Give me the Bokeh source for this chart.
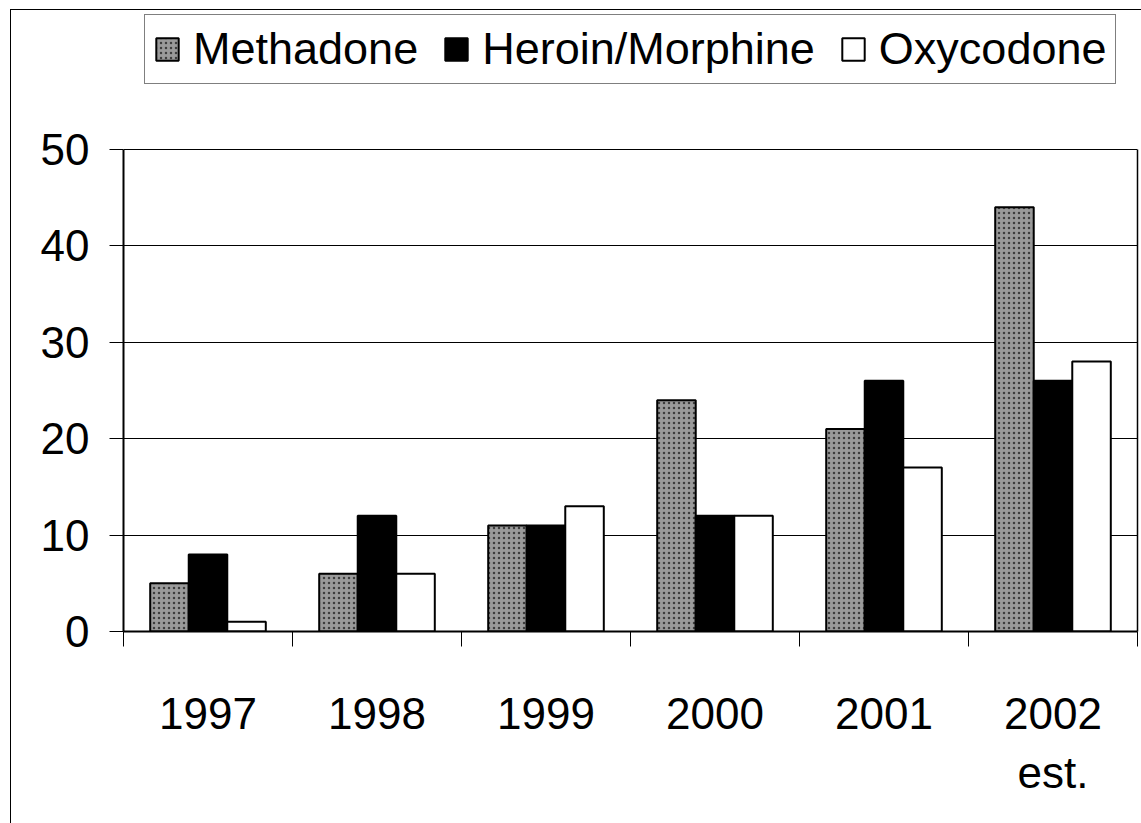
import numpy as np
from bokeh.plotting import figure
from bokeh.models import (ColumnDataSource, Range1d, FixedTicker, Legend, LegendItem,
                          LinearAxis)
from bokeh.transform import dodge
from bokeh.embed import file_html
from bokeh.resources import INLINE

years = ["1997", "1998", "1999", "2000", "2001", "2002\nest."]
methadone = [5, 6, 11, 24, 21, 44]
heroin = [8, 12, 11, 12, 26, 26]
oxycodone = [1, 6, 13, 12, 17, 28]
y_ticks = [0, 10, 20, 30, 40, 50]

FONT = "Liberation Sans"

# layout (canvas pixels)
H, W = 814, 1131
frame_bottom = 621
frame_top_50 = 139
ymax = 50 * frame_bottom / (frame_bottom - frame_top_50)

centers = list(np.arange(len(years)) + 0.5)
src = ColumnDataSource(dict(x=centers, m=methadone, h=heroin, o=oxycodone))

p = figure(width=W, height=H, output_backend="svg", toolbar_location=None,
           x_range=Range1d(0, len(years)), y_range=Range1d(0, ymax),
           min_border_left=112, min_border_right=5, min_border_top=0,
           min_border_bottom=H - frame_bottom, background_fill_color="white",
           border_fill_color="white")
p.margin = (9, 0, 0, 10)
p.styles = {"border-left": "1.5px solid black", "border-top": "1.5px solid black"}

bw = 0.228
r_m = p.vbar(x=dodge("x", -bw, range=p.x_range), top="m", width=bw, source=src,
             fill_color="#9a9a9a", hatch_pattern="dot", hatch_color="black",
             hatch_alpha=0.6, hatch_scale=5, line_color="black", line_width=2)
r_h = p.vbar(x=dodge("x", 0, range=p.x_range), top="h", width=bw, source=src,
             fill_color="black", line_color="black", line_width=2)
r_o = p.vbar(x=dodge("x", bw, range=p.x_range), top="o", width=bw, source=src,
             fill_color="white", line_color="black", line_width=2)

# axes
p.xaxis.ticker = FixedTicker(ticks=centers, minor_ticks=list(range(len(years) + 1)))
p.xaxis.major_label_overrides = {c: y for c, y in zip(centers, years)}
p.xaxis.major_tick_out = 0
p.xaxis.major_tick_in = 0
p.xaxis.minor_tick_out = 15
p.xaxis.minor_tick_in = 0
p.xaxis.minor_tick_line_color = "black"
p.xaxis.axis_line_width = 2
p.xaxis.major_label_standoff = 42
p.xaxis.major_label_text_font = FONT
p.xaxis.major_label_text_font_size = "44px"
p.xaxis.major_label_text_color = "black"
p.xaxis.major_label_text_line_height = 1.22

p.yaxis.ticker = FixedTicker(ticks=y_ticks)
p.yaxis.bounds = (0, 50)
p.yaxis.major_tick_out = 14
p.yaxis.major_tick_in = 0
p.yaxis.minor_tick_line_color = None
p.yaxis.axis_line_width = 2
p.yaxis.major_label_standoff = 20
p.yaxis.major_label_text_font = FONT
p.yaxis.major_label_text_font_size = "44px"
p.yaxis.major_label_text_color = "black"

# right border of the plot area
rax = LinearAxis(bounds=(0, 50), ticker=FixedTicker(ticks=[]),
                 major_tick_out=0, major_tick_in=0, minor_tick_out=0,
                 minor_tick_in=0, major_label_text_font_size="0px",
                 major_label_standoff=0,
                 axis_line_color="black", axis_line_width=1.5)
p.add_layout(rax, "right")

p.xgrid.grid_line_color = None
p.ygrid.ticker = FixedTicker(ticks=y_ticks)
p.ygrid.grid_line_color = "black"
p.ygrid.grid_line_width = 1
p.outline_line_color = None

legend = Legend(items=[LegendItem(label="Methadone", renderers=[r_m]),
                       LegendItem(label="Heroin/Morphine", renderers=[r_h]),
                       LegendItem(label="Oxycodone", renderers=[r_o])],
                orientation="horizontal", location=(21, 547),
                label_text_font=FONT, label_text_font_size="45px",
                label_text_color="black",
                glyph_width=28, glyph_height=28, label_standoff=12,
                spacing=24, padding=8, margin=0,
                border_line_color="black", border_line_width=1,
                background_fill_color="white")
p.add_layout(legend, "center")

open("out.html", "w").write(file_html(p, INLINE))
